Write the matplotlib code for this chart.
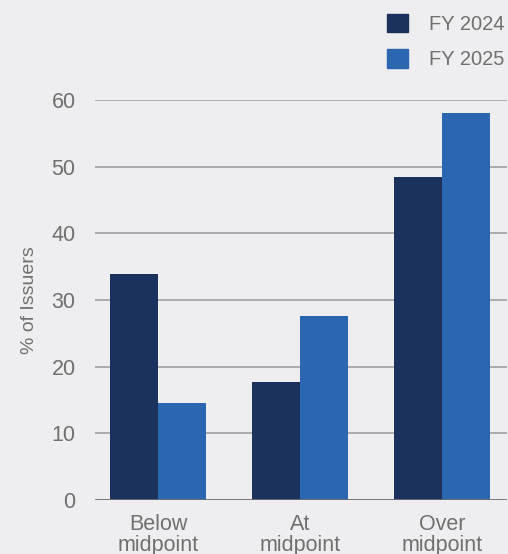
import numpy as np
import matplotlib.pyplot as plt
from matplotlib.patches import Patch

categories = ['Below\nmidpoint', 'At\nmidpoint', 'Over\nmidpoint']
fy2024 = [33.9, 17.7, 48.4]
fy2025 = [14.5, 27.6, 58.0]
series_labels = ['FY 2024', 'FY 2025']
yticks = [0, 10, 20, 30, 40, 50, 60]

bg = '#eeeef0'
dark = '#1b325c'
light = '#2b66b0'
text_color = '#707070'

plt.rcParams['font.family'] = ['Liberation Sans', 'DejaVu Sans']

fig = plt.figure(figsize=(5.08, 5.54), dpi=100, facecolor=bg)
ax = fig.add_axes([0.187, 0.0975, 0.811, 0.722], facecolor=bg)

x = np.arange(len(categories))
w = 0.338
ax.bar(x - w / 2, fy2024, width=w, color=dark, zorder=3)
ax.bar(x + w / 2, fy2025, width=w, color=light, zorder=3)

ax.set_xlim(-0.444, 2.458)
ax.set_ylim(0, 60)
ax.set_yticks(yticks)
ax.yaxis.grid(True, color='#9a9a9a', linewidth=1.1, zorder=0)
ax.axhline(0, color='#707070', linewidth=1.2, zorder=4)

for s in ax.spines.values():
    s.set_visible(False)

ax.set_xticks(x)
ax.set_xticklabels(categories, fontsize=15.5, color=text_color, linespacing=1.0)
ax.tick_params(axis='x', length=0, pad=10)
ax.tick_params(axis='y', length=0, pad=14, labelsize=15.5, labelcolor=text_color)

ax.set_ylabel('% of Issuers', fontsize=14, color=text_color, labelpad=10)

# legend sits in the top-right corner, above the plot area
handles = [Patch(color=dark), Patch(color=light)]
fig.legend(handles, series_labels, loc='upper right', bbox_to_anchor=(1.028, 1.008),
           frameon=False, fontsize=14.5, labelcolor=text_color,
           handlelength=1.05, handleheight=1.05, handletextpad=1.0,
           labelspacing=0.75)

fig.savefig('out.png', dpi=100, facecolor=bg)
